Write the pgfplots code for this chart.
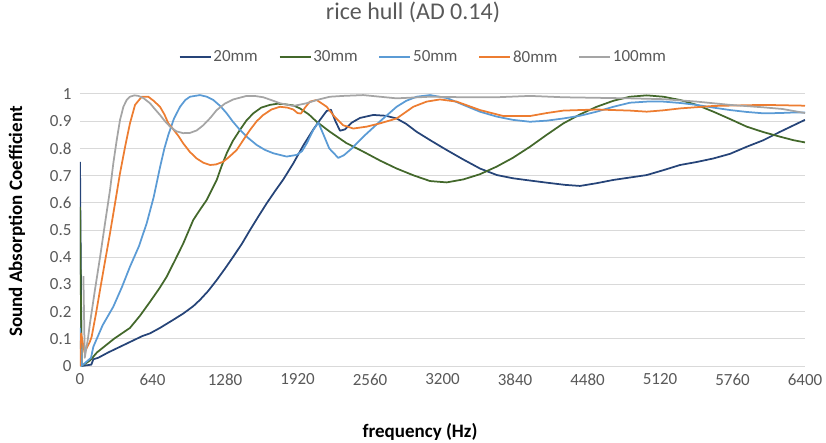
\documentclass[border=0pt]{standalone}
\usepackage{fontspec}
\setmainfont{Carlito}
\usepackage{pgfplots}
\pgfplotsset{compat=1.18}

\definecolor{c20}{HTML}{264478}
\definecolor{c30}{HTML}{43682B}
\definecolor{c50}{HTML}{5B9BD5}
\definecolor{c80}{HTML}{ED7D31}
\definecolor{c100}{HTML}{A5A5A5}
\definecolor{txt}{HTML}{595959}
\definecolor{gridc}{HTML}{D9D9D9}

\begin{document}
\begin{tikzpicture}
\begin{axis}[
  name=ax,
  scale only axis,
  width=725bp, height=272bp,
  xmin=0, xmax=6400, ymin=0, ymax=1,
  xtick={0,640,...,6400},
  ytick={0,0.1,0.2,0.3,0.4,0.5,0.6,0.7,0.8,0.9,1},
  scaled x ticks=false,
  /pgf/number format/assume math mode=true,
  /pgf/number format/1000 sep={},
  ymajorgrids,
  grid style={gridc, line width=1bp},
  axis line style={draw=none},
  tick style={draw=none},
  ticklabel style={font=\fontsize{17bp}{20bp}\selectfont, text=txt},
  yticklabel style={xshift=-5bp},
  xticklabel style={yshift=-4bp},
  title={rice hull (AD 0.14)},
  title style={at={(0.4593,1.279)}, anchor=center, font=\fontsize{24bp}{28bp}\selectfont, text=txt},
  xlabel={frequency (Hz)},
  xlabel style={at={(0.469,-0.243)}, anchor=center, font=\bfseries\fontsize{19bp}{22bp}\selectfont},
  ylabel={Sound Absorption Coefficient},
  ylabel style={at={(-0.0869,0.531)}, anchor=center, font=\bfseries\fontsize{19bp}{22bp}\selectfont},
  legend style={at={(0.473,1.136)}, anchor=center, draw=none, fill=none,
    legend columns=5, font=\fontsize{17bp}{20bp}\selectfont, text=txt,
    nodes={inner sep=1.5bp},
    /tikz/every even column/.append style={column sep=19bp}},
  legend image code/.code={\draw[#1, line width=2.5bp] (0bp,0bp) -- (31bp,0bp);},
  no markers,
  every axis plot/.append style={line width=1.75bp, line join=round},
]

% 20mm
\addplot[c20] table {
0 0.75
14 0.00
100 0.005
118 0.025
160 0.03
250 0.05
400 0.08
550 0.11
618 0.12
706 0.14
824 0.17
912 0.193
1000 0.22
1059 0.243
1130 0.275
1207 0.316
1280 0.358
1353 0.402
1430 0.45
1501 0.50
1575 0.55
1648 0.598
1720 0.642
1795 0.686
1883 0.745
1970 0.81
2060 0.87
2119 0.905
2178 0.938
2215 0.942
2255 0.90
2295 0.865
2340 0.87
2400 0.895
2472 0.912
2589 0.923
2700 0.92
2795 0.91
2880 0.89
2972 0.861
3100 0.828
3237 0.794
3380 0.76
3531 0.726
3680 0.702
3825 0.69
3970 0.682
4120 0.674
4280 0.666
4414 0.662
4560 0.672
4708 0.684
4855 0.693
5003 0.702
5150 0.72
5297 0.739
5444 0.75
5591 0.763
5738 0.78
5885 0.806
6032 0.83
6180 0.861
6300 0.885
6400 0.905
};
\addlegendentry{20mm}

% 30mm
\addplot[c30] table {
0 0.585
14 0.0
88 0.02
150 0.05
300 0.10
441 0.14
530 0.185
618 0.236
700 0.285
765 0.328
840 0.39
912 0.451
1000 0.537
1060 0.575
1118 0.61
1160 0.645
1207 0.684
1250 0.735
1295 0.782
1350 0.828
1412 0.868
1470 0.903
1530 0.929
1600 0.95
1677 0.96
1740 0.964
1795 0.963
1883 0.958
1942 0.947
2020 0.925
2089 0.898
2207 0.861
2350 0.82
2501 0.788
2650 0.755
2795 0.726
2950 0.70
3090 0.68
3237 0.675
3384 0.686
3530 0.705
3678 0.733
3820 0.765
3972 0.806
4120 0.85
4267 0.892
4414 0.925
4561 0.953
4708 0.975
4855 0.99
5003 0.995
5150 0.99
5297 0.978
5444 0.96
5591 0.935
5738 0.908
5885 0.88
6032 0.86
6180 0.843
6300 0.83
6400 0.822
};
\addlegendentry{30mm}

% 50mm
\addplot[c50] table {
0 0.14
14 0.0
97 0.03
118 0.071
200 0.15
294 0.218
370 0.29
441 0.365
520 0.44
589 0.525
650 0.62
706 0.73
745 0.80
780 0.85
830 0.91
883 0.953
930 0.978
971 0.99
1059 0.996
1120 0.99
1177 0.978
1240 0.955
1295 0.929
1350 0.898
1412 0.868
1480 0.84
1560 0.8125
1630 0.795
1707 0.782
1824 0.77
1913 0.776
1960 0.79
2001 0.818
2060 0.868
2104 0.895
2150 0.85
2200 0.80
2280 0.765
2330 0.775
2400 0.80
2501 0.843
2650 0.90
2795 0.953
2880 0.975
2972 0.99
3090 0.996
3240 0.985
3384 0.96
3530 0.935
3678 0.917
3820 0.905
3972 0.898
4120 0.902
4267 0.91
4414 0.92
4561 0.935
4708 0.953
4855 0.968
5003 0.972
5150 0.972
5297 0.967
5444 0.96
5591 0.95
5738 0.941
5885 0.934
6032 0.929
6180 0.93
6300 0.932
6400 0.932
};
\addlegendentry{50mm}

% 80mm
\addplot[c80] table {
0 0.0
10 0.12
40 0.05
88 0.09
103 0.108
140 0.19
177 0.28
221 0.385
265 0.488
310 0.60
353 0.708
400 0.81
441 0.892
486 0.96
545 0.99
603 0.99
650 0.975
706 0.953
745 0.925
780 0.892
824 0.87
870 0.845
912 0.818
970 0.787
1030 0.763
1090 0.747
1148 0.739
1200 0.741
1265 0.751
1320 0.77
1383 0.794
1440 0.83
1501 0.868
1560 0.90
1618 0.923
1690 0.943
1765 0.953
1830 0.95
1883 0.943
1920 0.93
1950 0.928
1990 0.952
2030 0.972
2089 0.978
2178 0.953
2250 0.915
2324 0.885
2413 0.873
2530 0.88
2648 0.892
2795 0.91
2942 0.953
3060 0.972
3178 0.98
3325 0.972
3531 0.941
3737 0.919
3972 0.919
4120 0.93
4267 0.939
4561 0.943
4855 0.939
5003 0.935
5150 0.94
5297 0.947
5591 0.956
6032 0.96
6400 0.957
};
\addlegendentry{80mm}

% 100mm
\addplot[c100] table {
30 0.33
42 0.03
70 0.10
88 0.157
132 0.28
177 0.40
221 0.525
265 0.647
294 0.745
324 0.83
353 0.904
383 0.953
412 0.978
441 0.99
480 0.995
515 0.993
560 0.985
618 0.966
660 0.945
706 0.923
750 0.90
795 0.88
850 0.863
910 0.856
971 0.857
1030 0.866
1088 0.885
1150 0.912
1207 0.941
1280 0.965
1353 0.98
1471 0.993
1540 0.993
1618 0.988
1700 0.976
1765 0.966
1883 0.956
2001 0.966
2089 0.978
2207 0.99
2324 0.993
2501 0.996
2795 0.984
3090 0.99
3400 0.988
3678 0.988
3972 0.993
4267 0.988
4560 0.986
4855 0.984
5150 0.981
5444 0.972
5738 0.96
6032 0.951
6200 0.945
6400 0.93
};
\addlegendentry{100mm}

\end{axis}
\pgfresetboundingbox
\path ([xshift=-80bp,yshift=-77bp]ax.south west) rectangle ([xshift=21bp,yshift=94bp]ax.north east);
\end{tikzpicture}
\end{document}
